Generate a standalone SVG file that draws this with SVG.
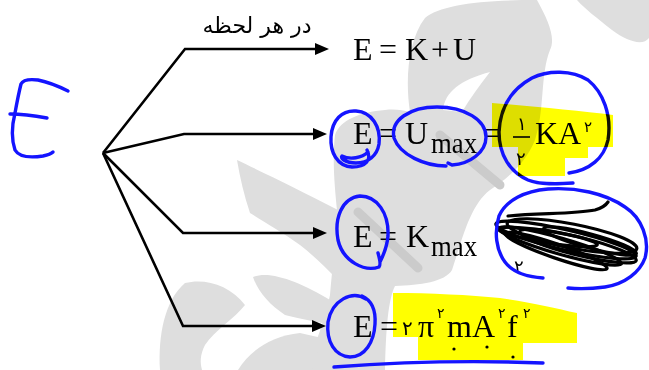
<svg xmlns="http://www.w3.org/2000/svg" width="649" height="370" viewBox="0 0 649 370">
<style>
.wm{fill:#dedede;stroke:none}
.wmd{fill:none;stroke:#cbcbcb;stroke-width:9;stroke-linecap:round}
.ln{fill:none;stroke:#000;stroke-width:2.6;stroke-linejoin:miter}
.ah{fill:#000}
.tx{font-family:"Liberation Serif","Times New Roman",serif;fill:#000}
.fa{font-family:"DejaVu Sans","Noto Sans",sans-serif;fill:#000}
.pen{fill:none;stroke:#1414ff;stroke-width:3.4;stroke-linecap:round;stroke-linejoin:round}
.ink{fill:none;stroke:#000;stroke-width:3.2;stroke-linecap:round}
.hl{fill:#ffff00;mix-blend-mode:multiply}
</style>
<rect width="649" height="370" fill="#ffffff"/>
<g id="watermark">
<path class="wm" d="M577,0 L649,0 L649,38 C643,46 628,42 612,30 C597,18 585,9 577,0 Z"/>
<path class="wm" d="M410,112 C405,80 408,40 425,18 C440,5 480,0 537,0 C548,20 556,38 550,50 C540,75 545,110 535,140 C525,165 505,180 490,190 C470,205 462,240 452,270 C445,282 420,285 395,286 C388,300 386,330 385,370 L305,370 C315,345 325,320 330,295 C332,270 336,240 337,210 C335,190 332,160 335,135 C340,120 360,112 385,110 C395,109 402,110 410,112 Z"/>
<path d="M443,110 C445,92 460,80 490,72 C480,85 470,98 462,112 Z" fill="#ffffff"/>
<path class="wm" d="M237,160 C262,172 300,190 338,210 L338,280 C326,268 313,255 300,245 C282,232 264,222 250,213 C244,195 240,178 237,160 Z"/>
<path class="wm" d="M253,277 C270,270 300,282 330,300 L333,325 C315,322 298,318 285,315 C270,305 258,292 253,277 Z"/>
<path class="wm" d="M160,370 C158,335 165,300 185,283 C205,278 230,285 245,305 C235,318 215,330 205,345 C200,355 200,362 202,370 Z"/>
<path class="wm" d="M238,370 C250,350 272,336 300,333 L322,338 L312,370 Z"/>
<path class="wmd" d="M440,135 L500,185"/>
<path class="wmd" d="M358,212 L418,268"/>
</g>
<g id="connectors">
<polyline class="ln" points="103,153 185,49 316,49"/>
<polygon class="ah" points="329,49 315,43 315,55"/>
<polyline class="ln" points="103,153 184,134 314,134"/>
<polygon class="ah" points="327,134 313,128 313,140"/>
<polyline class="ln" points="103,153 183,233 314,233"/>
<polygon class="ah" points="327,233 313,227 313,239"/>
<polyline class="ln" points="103,153 183,326 313,326"/>
<polygon class="ah" points="326,326 312,320 312,332"/>
</g>
<g id="label-top">
<text class="fa" x="257" y="33" font-size="22" text-anchor="middle">در هر لحظه</text>
</g>
<g id="node-1">
<text class="tx" font-size="32" y="60"><tspan x="353">E</tspan><tspan x="379">=</tspan><tspan x="405">K</tspan><tspan x="431">+</tspan><tspan x="453">U</tspan></text>
</g>
<g id="node-2">
<text class="tx" font-size="32" y="144"><tspan x="353">E</tspan><tspan x="379">=</tspan><tspan x="405">U</tspan></text>
<text class="tx" font-size="30" x="431" y="153" textLength="46" lengthAdjust="spacingAndGlyphs">max</text>
<text class="tx" font-size="32" x="484" y="144">=</text>
<text class="fa" font-size="18" x="517" y="130">۱</text>
<line x1="513" y1="137" x2="530" y2="137" stroke="#000" stroke-width="1.6"/>
<text class="fa" font-size="18" x="516" y="165">۲</text>
<text class="tx" font-size="32" x="535" y="144">KA</text>
<text class="fa" font-size="15" x="584" y="132">۲</text>
</g>
<g id="node-3">
<text class="tx" font-size="32" y="247"><tspan x="353">E</tspan><tspan x="379">=</tspan><tspan x="406">K</tspan></text>
<text class="tx" font-size="30" x="431" y="256" textLength="46" lengthAdjust="spacingAndGlyphs">max</text>
<text class="fa" font-size="18" x="514" y="273">۲</text>
</g>
<g id="node-4">
<text class="tx" font-size="32" y="337"><tspan x="353">E</tspan><tspan x="380">=</tspan></text>
<text class="fa" font-size="20" x="402" y="335">۲</text>
<text class="tx" font-size="32" x="418" y="337">π</text>
<text class="fa" font-size="14" x="437" y="318">۲</text>
<text class="tx" font-size="32" x="447" y="337">mA</text>
<text class="fa" font-size="14" x="498" y="318">۲</text>
<text class="tx" font-size="32" x="507" y="337">f</text>
<text class="fa" font-size="14" x="523" y="318">۲</text>
<circle cx="454" cy="349" r="1.6"/>
<circle cx="487" cy="347" r="1.6"/>
<circle cx="513" cy="357" r="1.6"/>
</g>
<g id="scribble">
<path class="ink" stroke-width="4.5" d="M508,216 C540,213 575,214 595,210 C602,208 606,205 608,202"/>
<ellipse class="ink" cx="566" cy="240" rx="72" ry="10" transform="rotate(13 566 240)"/>
<ellipse class="ink" cx="560" cy="246" rx="64" ry="8" transform="rotate(16 560 246)"/>
<ellipse class="ink" cx="572" cy="236" rx="66" ry="12" transform="rotate(11 572 236)"/>
<ellipse class="ink" cx="556" cy="251" rx="54" ry="7" transform="rotate(19 556 251)"/>
<ellipse class="ink" cx="578" cy="246" rx="60" ry="9" transform="rotate(14 578 246)"/>
<ellipse class="ink" cx="548" cy="237" rx="50" ry="6" transform="rotate(9 548 237)"/>
<ellipse class="ink" cx="590" cy="241" rx="48" ry="7" transform="rotate(15 590 241)"/>
</g>
<g id="pen">
<path class="pen" d="M68,91 C58,86 48,82 38,80 C30,79 23,80 21,84 C19,92 17,102 15,113 C12,125 11,138 15,150 C19,157 30,158 43,156 C48,155 51,154 53,152"/>
<path class="pen" d="M10,114 C22,114 36,116 47,118"/>
<path class="pen" d="M367,150 C372,160 366,167 352,167 C337,166 330,152 331,137 C332,120 342,110 356,111 C372,112 381,127 379,144 C377,156 368,163 356,163 C345,163 340,158 342,156 C350,160 362,158 368,152"/>
<path class="pen" d="M446,166 C425,166 400,155 394,138 C390,120 410,107 437,107 C465,107 486,120 486,137 C486,152 470,164 452,165 L448,163"/>
<path class="pen" d="M569,173 C590,170 604,158 608,140 C612,115 603,92 588,80 C572,70 548,70 532,78 C510,90 500,110 499,132 C499,155 510,172 528,180 C540,185 558,184 573,183"/>
<path class="pen" d="M378,253 C380,260 381,265 379,267 C365,272 343,262 338,240 C334,218 342,198 360,196 C377,196 389,213 388,236 C387,247 384,254 380,262"/>
<path class="pen" d="M366,299 C352,290 332,300 328,322 C326,342 335,356 350,357 C365,357 374,342 375,324 C376,308 371,300 362,296"/>
<path class="pen" d="M334,367 C400,362 470,360 543,363"/>
<path class="pen" d="M543,278 C528,277 513,273 505,262 C496,250 494,232 499,216 C506,200 525,191 548,189 C575,187 605,193 625,207 C642,218 650,240 645,258 C640,272 625,284 605,287 C590,289 578,289 568,288"/>
</g>
<g id="highlights">
<path class="hl" d="M492,103 C530,106 580,111 613,115 L613,147 L588,147 L588,158 L565,158 L565,176 L518,176 L518,147 L492,147 Z"/>
<path class="hl" d="M393,293 C430,293 470,295 500,298 C530,302 555,308 577,313 L577,343 L523,343 L523,360 L418,360 L418,337 L393,337 Z"/>
</g>
</svg>
